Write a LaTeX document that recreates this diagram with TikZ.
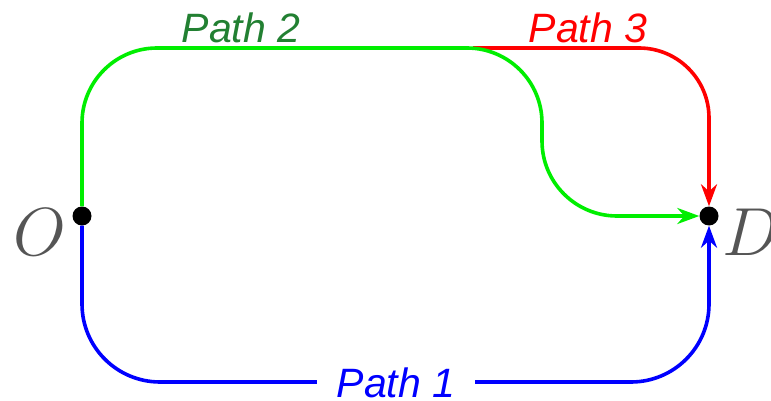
\RequirePackage{fix-cm}
\documentclass[tikz,border=0pt]{standalone}
\usepackage{fontspec}
\setsansfont{Liberation Sans}
\usetikzlibrary{arrows.meta}
\definecolor{pgreen}{RGB}{0,238,0}
\definecolor{pred}{RGB}{255,0,0}
\definecolor{pblue}{RGB}{0,0,255}
\definecolor{tgreen}{RGB}{34,128,50}
\definecolor{lgray}{RGB}{85,85,85}
\tikzset{
  dot/.style={circle,fill=black,inner sep=0pt,minimum size=19pt},
  route/.style={line width=3.6pt,rounded corners=76pt},
  tip/.style={-{Stealth[length=22pt,width=16pt,inset=7pt]}},
  plabel/.style={font=\sffamily\itshape\fontsize{41}{44}\selectfont,inner sep=0pt},
  ptlabel/.style={font=\fontsize{68}{70}\selectfont,text=lgray,inner sep=0pt}
}
\begin{document}
\begin{tikzpicture}[x=1pt,y=-1pt]
\useasboundingbox (0,0) rectangle (771,401);
\node[dot] (O) at (82,216) {};
\node[dot] (D) at (709,216) {};
\node[ptlabel] (Olab) at (40,232) {$O$};
\node[ptlabel,anchor=west] (Dlab) at (722,232) {$D$};
\coordinate (r0) at (473,48);
% Path 3
\draw[route,pred,tip,rounded corners=70pt] (r0) -- (709,48) -- (D);
% Path 2
\draw[route,pgreen,tip,rounded corners=75pt] (O) -- (82,48) -- (542,48) -- (542,216) -- (D);
% Path 1
\draw[route,pblue,tip,rounded corners=78pt] (O) -- (82,382) -- (709,382) -- (D);
\node[plabel,text=pblue,fill=white,inner xsep=20pt,inner ysep=4pt] (p1) at (396,383) {Path 1};
\node[plabel,text=tgreen,anchor=base] (p2) at (241,43) {Path 2};
\node[plabel,text=pred,anchor=base] (p3) at (588,43) {Path 3};
\end{tikzpicture}
\end{document}
